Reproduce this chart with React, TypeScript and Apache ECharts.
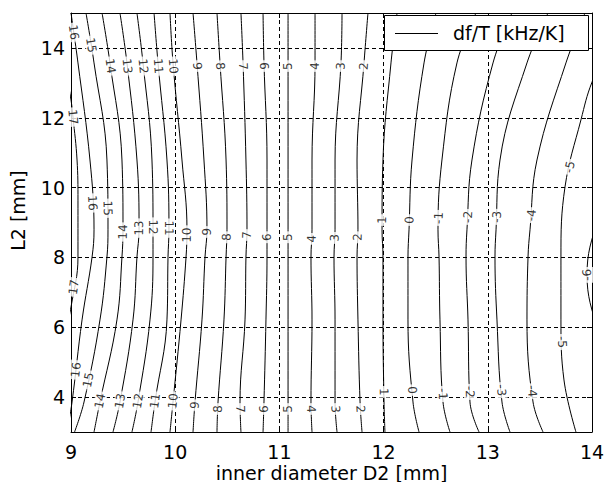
import React, { useEffect, useRef } from 'react';
import * as echarts from 'echarts';

// ---- data ----
const X_TICKS = [9, 10, 11, 12, 13, 14];
const Y_TICKS = [4, 6, 8, 10, 12, 14];

// common heights (L2, mm) at which the contour positions were read
const Y_S = [3, 3.86, 6.21, 8.01, 8.79, 10.79, 13.57, 15];

// D2 positions (mm) of every contour level at the heights above
const Y17 = [5.64, 6.58, 8.01, 9.64, 10.79, 12.02, 12.51, 13.65];
const X17 = [8.933, 9.0, 9.067, 9.067, 9.058, 9.019, 9.0, 8.933];
const X16 = [8.962, 9.01, 9.106, 9.202, 9.221, 9.182, 9.067, 9.0];
const X15 = [9.034, 9.125, 9.278, 9.345, 9.355, 9.345, 9.221, 9.144];
const X14 = [9.221, 9.278, 9.441, 9.489, 9.499, 9.489, 9.374, 9.298];
const X13 = [9.403, 9.47, 9.595, 9.633, 9.653, 9.633, 9.537, 9.47];
const X12 = [9.585, 9.643, 9.758, 9.787, 9.787, 9.777, 9.691, 9.633];
const X11 = [9.768, 9.806, 9.921, 9.931, 9.94, 9.921, 9.835, 9.797];
const X10 = [9.95, 9.979, 10.056, 10.104, 10.113, 10.065, 9.979, 9.95];
const X9 = [10.171, 10.19, 10.257, 10.286, 10.305, 10.276, 10.209, 10.171];
const X8 = [10.401, 10.411, 10.468, 10.488, 10.497, 10.488, 10.43, 10.401];
const X7 = [10.631, 10.622, 10.67, 10.679, 10.689, 10.679, 10.651, 10.631];
const X6 = [10.843, 10.852, 10.871, 10.881, 10.881, 10.881, 10.852, 10.843];
const X5 = [11.083, 11.083, 11.083, 11.083, 11.083, 11.083, 11.083, 11.083];
const X4 = [11.313, 11.303, 11.313, 11.303, 11.313, 11.313, 11.342, 11.342];
const X3 = [11.553, 11.534, 11.534, 11.524, 11.534, 11.534, 11.591, 11.601];
const X2 = [11.793, 11.774, 11.754, 11.745, 11.754, 11.745, 11.812, 11.85];
const X1 = [12.013, 12.004, 11.994, 11.994, 11.985, 11.994, 12.071, 12.129];
const X0 = [12.34, 12.282, 12.234, 12.234, 12.244, 12.273, 12.388, 12.503];
const XM1 = [12.637, 12.57, 12.541, 12.532, 12.522, 12.56, 12.704, 12.887];
const XM2 = [12.916, 12.829, 12.81, 12.791, 12.8, 12.848, 13.05, 13.232];
const XM3 = [13.213, 13.136, 13.088, 13.069, 13.079, 13.117, 13.376, 13.578];
const XM4 = [13.53, 13.434, 13.376, 13.386, 13.405, 13.472, 13.75, 13.933];
const YM5 = [3, 4.49, 6.21, 8.01, 10.02, 11.94, 13.02, 14.23];
const XM5 = [13.846, 13.731, 13.702, 13.702, 13.741, 13.894, 14.0, 14.192];
const YM6 = [3.92, 5.92, 7.5, 9.07, 10.79];
const XM6 = [14.317, 14.058, 13.952, 14.058, 14.317];

const CONTOURS = [
  { level: 17, xs: X17, ys: Y17 },
  { level: 16, xs: X16, ys: Y_S },
  { level: 15, xs: X15, ys: Y_S },
  { level: 14, xs: X14, ys: Y_S },
  { level: 13, xs: X13, ys: Y_S },
  { level: 12, xs: X12, ys: Y_S },
  { level: 11, xs: X11, ys: Y_S },
  { level: 10, xs: X10, ys: Y_S },
  { level: 9, xs: X9, ys: Y_S },
  { level: 8, xs: X8, ys: Y_S },
  { level: 7, xs: X7, ys: Y_S },
  { level: 6, xs: X6, ys: Y_S },
  { level: 5, xs: X5, ys: Y_S },
  { level: 4, xs: X4, ys: Y_S },
  { level: 3, xs: X3, ys: Y_S },
  { level: 2, xs: X2, ys: Y_S },
  { level: 1, xs: X1, ys: Y_S },
  { level: 0, xs: X0, ys: Y_S },
  { level: -1, xs: XM1, ys: Y_S },
  { level: -2, xs: XM2, ys: Y_S },
  { level: -3, xs: XM3, ys: Y_S },
  { level: -4, xs: XM4, ys: Y_S },
  { level: -5, xs: XM5, ys: YM5 },
  { level: -6, xs: XM6, ys: YM6 },
];

// inline contour labels: level and the height where it sits
const LABEL_LEVELS = [
  17, 16, 15, 14, 13, 12, 11, 10, 9, 8, 7, 6, 5, 4, 3, 2,
  17, 16, 15, 14, 13, 12, 11, 10, 9, 8, 7, 6, 5, 4, 3, 2, 1, 0, -1, -2, -3, -4, -5, -6,
  16, 15, 14, 13, 12, 11, 10, 9, 8, 7, 6, 5, 4, 3, 2, 1, 0, -1, -2, -3, -4, -5,
];
const LABEL_Y = [
  12.02, 14.45, 14.08, 13.48, 13.48, 13.48, 13.48, 13.48, 13.48, 13.48, 13.48, 13.48, 13.48, 13.48, 13.48, 13.48,
  7.15, 9.56, 9.41, 8.73, 8.84, 8.87, 8.84, 8.64, 8.73, 8.58, 8.64, 8.58, 8.58, 8.53, 8.56, 8.58, 9.07, 9.07, 9.13, 9.16, 9.16, 9.21, 10.59, 7.5,
  4.78, 4.49, 3.89, 3.89, 3.89, 3.89, 3.89, 3.77, 3.66, 3.66, 3.66, 3.66, 3.66, 3.66, 3.66, 4.15, 4.2, 4.09, 4.15, 4.2, 4.17, 5.58,
];

const SERIES_NAME = 'df/T [kHz/K]';
const FONT = 'DejaVu Sans';

function xAt(xs: number[], ys: number[], y: number): number {
  for (let i = 0; i < ys.length - 1; i++) {
    if (y >= ys[i] && y <= ys[i + 1]) {
      const t = (y - ys[i]) / (ys[i + 1] - ys[i]);
      return xs[i] + t * (xs[i + 1] - xs[i]);
    }
  }
  return y < ys[0] ? xs[0] : xs[xs.length - 1];
}

export default function App() {
  const ref = useRef<HTMLDivElement>(null);

  useEffect(() => {
    const el = ref.current;
    if (!el) return;
    const chart = echarts.init(el, null, { renderer: 'svg' });

    const lineSeries = CONTOURS.map((c) => ({
      type: 'line',
      name: SERIES_NAME,
      data: c.xs.map((x, i) => [x, c.ys[i]]),
      smooth: 0.4,
      symbol: 'none',
      silent: true,
      clip: true,
      lineStyle: { color: '#000', width: 1 },
      z: 3,
    }));

    const axisCommonX = {
      type: 'value',
      min: X_TICKS[0],
      max: X_TICKS[X_TICKS.length - 1],
      interval: 1,
    };
    const axisCommonY = {
      type: 'value',
      min: 3,
      max: 15,
    };

    const option: any = {
      animation: false,
      backgroundColor: '#fff',
      grid: {
        left: 71,
        right: 15,
        top: 13,
        bottom: 50,
        containLabel: false,
        outerBoundsMode: 'none',
      },
      xAxis: [
        {
          ...axisCommonX,
          position: 'bottom',
          name: 'inner diameter D2 [mm]',
          nameLocation: 'middle',
          nameGap: 31,
          nameMoveOverlap: false,
          nameTextStyle: { fontSize: 19, fontFamily: FONT, color: '#000' },
          axisLine: { show: true, onZero: false, lineStyle: { color: '#000', width: 1 } },
          axisTick: { show: true, inside: true, length: 5, lineStyle: { color: '#000' } },
          axisLabel: { show: true, fontSize: 19, fontFamily: FONT, color: '#000', margin: 10 },
          splitLine: { show: true, lineStyle: { color: '#000', width: 1, type: [4, 3] } },
        },
        {
          ...axisCommonX,
          position: 'top',
          axisLine: { show: true, onZero: false, lineStyle: { color: '#000', width: 1 } },
          axisTick: { show: true, inside: true, length: 5, lineStyle: { color: '#000' } },
          axisLabel: { show: false },
          splitLine: { show: false },
        },
      ],
      yAxis: [
        {
          ...axisCommonY,
          position: 'left',
          name: 'L2 [mm]',
          nameLocation: 'middle',
          nameRotate: 90,
          nameGap: 44,
          nameMoveOverlap: false,
          nameTextStyle: { fontSize: 19, fontFamily: FONT, color: '#000', padding: [0, 0, 0, 24] },
          axisLine: { show: true, onZero: false, lineStyle: { color: '#000', width: 1 } },
          axisTick: { show: true, inside: true, length: 5, lineStyle: { color: '#000' }, customValues: Y_TICKS },
          axisLabel: { show: true, fontSize: 19, fontFamily: FONT, color: '#000', margin: 6, customValues: Y_TICKS },
          splitLine: { show: true, lineStyle: { color: '#000', width: 1, type: [4, 3] } },
        },
        {
          ...axisCommonY,
          position: 'right',
          axisLine: { show: true, onZero: false, lineStyle: { color: '#000', width: 1 } },
          axisTick: { show: true, inside: true, length: 5, lineStyle: { color: '#000' }, customValues: Y_TICKS },
          axisLabel: { show: false, customValues: Y_TICKS },
          splitLine: { show: false },
        },
      ],
      graphic: [
        {
          type: 'rect',
          z: 100,
          shape: { x: 384.5, y: 15.5, width: 204, height: 35 },
          style: { fill: '#fff', stroke: '#000', lineWidth: 1 },
        },
        {
          type: 'line',
          z: 101,
          shape: { x1: 395, y1: 33.5, x2: 438, y2: 33.5 },
          style: { stroke: '#000', lineWidth: 1 },
        },
        {
          type: 'text',
          z: 101,
          x: 453,
          y: 33,
          style: {
            text: SERIES_NAME,
            fontSize: 19,
            fontFamily: FONT,
            fill: '#000',
            verticalAlign: 'middle',
            align: 'left',
          },
        },
      ],
      series: lineSeries,
    };

    chart.setOption(option);

    const labelData = LABEL_LEVELS.map((lv, i) => {
      const c = CONTOURS.find((k) => k.level === lv)!;
      const y = LABEL_Y[i];
      const x = xAt(c.xs, c.ys, y);
      const d = 0.25;
      const p1 = chart.convertToPixel({ xAxisIndex: 0, yAxisIndex: 0 } as any, [xAt(c.xs, c.ys, y - d), y - d]) as number[];
      const p2 = chart.convertToPixel({ xAxisIndex: 0, yAxisIndex: 0 } as any, [xAt(c.xs, c.ys, y + d), y + d]) as number[];
      let ang = (Math.atan2(-(p2[1] - p1[1]), p2[0] - p1[0]) * 180) / Math.PI;
      if (ang > 90) ang -= 180;
      if (ang <= -90) ang += 180;
      return {
        value: [x, y],
        label: { rotate: ang, color: '#000', formatter: String(lv) },
      };
    });

    chart.setOption({
      series: [
        ...lineSeries,
        {
          type: 'scatter',
          name: 'labels',
          data: labelData,
          symbolSize: 1,
          silent: true,
          clip: false,
          itemStyle: { color: 'rgba(0,0,0,0)' },
          z: 5,
          label: {
            show: true,
            position: 'inside',
            color: '#000',
            textBorderWidth: 0,
            fontSize: 12,
            fontFamily: FONT,
            backgroundColor: '#fff',
            padding: [0, 2],
          },
        },
      ],
    });

    return () => {
      chart.dispose();
    };
  }, []);

  return (
    <div
      ref={ref}
      style={{
        position: 'absolute',
        left: 0,
        top: 0,
        width: 607,
        height: 482,
        background: '#fff',
      }}
    />
  );
}
